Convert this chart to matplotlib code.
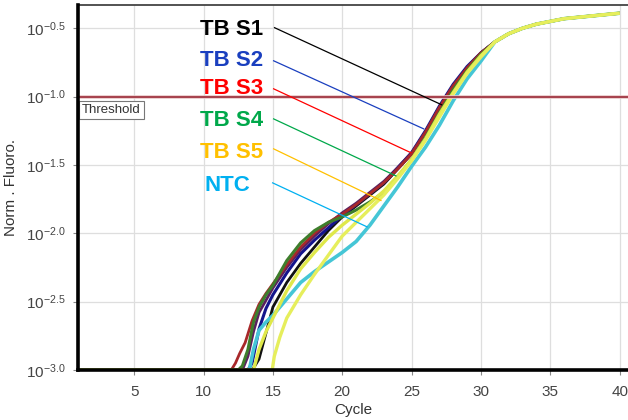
import matplotlib
matplotlib.use("Agg")
import matplotlib.pyplot as plt
import numpy as np

plt.rcParams['font.family'] = ['Liberation Sans', 'DejaVu Sans']
plt.rcParams['mathtext.fontset'] = 'custom'
plt.rcParams['mathtext.rm'] = 'Liberation Sans'
plt.rcParams['mathtext.it'] = 'Liberation Sans:italic'
plt.rcParams['mathtext.bf'] = 'Liberation Sans:bold'

"""DADOS (expoentes log10 lidos do grafico)"""
plateau_cyc = [31, 32, 33, 34, 35, 36, 37, 38, 39, 40]
plateau_exp = [-0.60, -0.54, -0.50, -0.47, -0.45, -0.43, -0.42, -0.41, -0.40, -0.39]

black_cyc = [1, 13.5, 13.7, 14, 14.5, 15, 16, 17, 18, 19, 20, 21, 22, 23, 24, 25, 26, 27, 28, 29, 30]
black_exp = [-3, -3, -2.97, -2.92, -2.73, -2.54, -2.36, -2.22, -2.10, -1.98, -1.88,
             -1.80, -1.72, -1.64, -1.53, -1.42, -1.26, -1.08, -0.92, -0.79, -0.68]

navy_cyc = [1, 13.2, 13.5, 14, 14.5, 15, 16, 17, 18, 19, 20, 21, 22, 23, 24, 25, 26, 27, 28, 29, 30]
navy_exp = [-3, -3, -2.95, -2.70, -2.55, -2.45, -2.29, -2.15, -2.05, -1.96, -1.87,
            -1.79, -1.71, -1.63, -1.52, -1.41, -1.25, -1.07, -0.91, -0.78, -0.68]

purple_cyc = [1, 12.8, 13.2, 13.6, 14, 15, 16, 17, 18, 19, 20, 21, 22, 23, 24, 25, 26, 27, 28, 29, 30]
purple_exp = [-3, -3, -2.90, -2.72, -2.58, -2.40, -2.25, -2.12, -2.02, -1.93, -1.85,
              -1.78, -1.70, -1.62, -1.52, -1.41, -1.26, -1.08, -0.92, -0.79, -0.68]

red_cyc = [1, 12.0, 12.3, 12.6, 13, 13.5, 14, 14.5, 15, 16, 17, 18, 19, 20, 21, 22, 23, 24, 25, 26, 27, 28, 29, 30]
red_exp = [-3, -3, -2.95, -2.88, -2.80, -2.64, -2.52, -2.44, -2.37, -2.23, -2.10, -2.00, -1.92, -1.86,
           -1.79, -1.71, -1.63, -1.53, -1.42, -1.26, -1.08, -0.92, -0.79, -0.68]

green_cyc = [1, 12.5, 12.8, 13.2, 13.6, 14, 14.5, 15, 16, 17, 18, 19, 20, 21, 22, 23, 24, 25, 26, 27, 28, 29, 30]
green_exp = [-3, -3, -2.97, -2.85, -2.65, -2.54, -2.45, -2.38, -2.20, -2.07, -1.98, -1.92, -1.88,
             -1.83, -1.77, -1.70, -1.59, -1.46, -1.30, -1.12, -0.95, -0.81, -0.69]

yellow1_cyc = [1, 13.6, 14, 14.5, 15, 16, 17, 18, 19, 20, 21, 22, 23, 24, 25, 26, 27, 28, 29, 30]
yellow1_exp = [-3, -3, -2.85, -2.72, -2.62, -2.42, -2.26, -2.14, -2.03, -1.94, -1.86, -1.78,
               -1.69, -1.58, -1.46, -1.31, -1.13, -0.97, -0.82, -0.70]

yellow2_cyc = [1, 14.95, 15.1, 15.5, 16, 17, 18, 19, 20, 21, 22, 23, 24, 25, 26, 27, 28, 29, 30]
yellow2_exp = [-3, -3, -2.90, -2.76, -2.62, -2.45, -2.30, -2.16, -2.02, -1.92, -1.82, -1.72,
               -1.60, -1.47, -1.32, -1.15, -0.98, -0.83, -0.71]

cyan_cyc = [1, 13.3, 13.6, 14, 14.5, 15, 16, 17, 18, 19, 20, 21, 22, 23, 24, 25, 26, 27, 28, 29, 30]
cyan_exp = [-3, -3, -2.85, -2.71, -2.65, -2.60, -2.48, -2.36, -2.28, -2.21, -2.14, -2.06,
            -1.94, -1.80, -1.66, -1.51, -1.37, -1.21, -1.03, -0.87, -0.74]

threshold_exp = -1.0

ytick_exp = [-3.0, -2.5, -2.0, -1.5, -1.0, -0.5]
xticks = [5, 10, 15, 20, 25, 30, 35, 40]

labels = ["TB S1", "TB S2", "TB S3", "TB S4", "TB S5", "NTC"]
label_colors = ["#000000", "#1a3fbf", "#ff0000", "#00a84a", "#ffc000", "#00b0f0"]
label_text_xy = [(12.05, -0.51), (12.05, -0.737), (12.05, -0.942), (12.05, -1.176), (12.05, -1.41), (11.7, -1.652)]
label_line_start = [(15.12, -0.496), (15.05, -0.738), (15.05, -0.943), (15.05, -1.163), (15.05, -1.382), (14.98, -1.631)]
label_line_end = [(27.17, -1.06), (25.87, -1.236), (24.94, -1.41), (23.87, -1.58), (22.79, -1.76), (21.79, -1.953)]

"""GRAFICO"""
fig = plt.figure(figsize=(6.28, 4.2), dpi=100)
ax = fig.add_axes([78/628, 50/420, 550/628, 365/420])

series = [
    (black_cyc, black_exp, "#111111", 2.0),
    (navy_cyc, navy_exp, "#14148c", 2.2),
    (purple_cyc, purple_exp, "#5a2060", 2.0),
    (red_cyc, red_exp, "#a8282a", 2.0),
    (green_cyc, green_exp, "#3e7e2c", 2.2),
    (cyan_cyc, cyan_exp, "#45c6d6", 2.6),
    (yellow1_cyc, yellow1_exp, "#dfe84a", 2.4),
    (yellow2_cyc, yellow2_exp, "#e6ee5c", 2.4),
]
for cyc, ex, cor, lw in series:
    c = list(cyc) + plateau_cyc
    e = list(ex) + plateau_exp
    ax.plot(c, 10 ** np.array(e), color=cor, lw=lw, solid_capstyle='butt', zorder=3)

ax.axhline(10 ** threshold_exp, color="#e9c6c6", lw=2.6, zorder=4)
ax.axhline(10 ** threshold_exp, color="#9a2a38", lw=1.2, zorder=4)
ax.text(1.25, 10 ** -1.097, "Threshold", fontsize=9.5, color="#333333", va='center', ha='left',
        bbox=dict(boxstyle='square,pad=0.25', fc='white', ec='#777777', lw=0.8), zorder=5)

for lab, cor, txy, p0, p1 in zip(labels, label_colors, label_text_xy, label_line_start, label_line_end):
    ax.text(txy[0], 10 ** txy[1], lab, color=cor, fontsize=16, fontweight='bold',
            ha='center', va='center', zorder=6)
    ax.plot([p0[0], p1[0]], [10 ** p0[1], 10 ** p1[1]], color=cor, lw=0.9, zorder=6)

ax.set_yscale('log')
ax.set_xlim(0.95, 40.6)
ax.set_ylim(10 ** -3.0, 10 ** -0.33)
ax.set_xticks(xticks)
ax.set_xticklabels([str(x) for x in xticks])
ax.set_yticks([10 ** e for e in ytick_exp])
ax.set_yticklabels([r'$10^{%.1f}$' % e for e in ytick_exp])
ax.minorticks_off()
ax.tick_params(axis='both', colors='#888888', labelcolor='#444444', labelsize=11, length=3.5, width=0.8)
ax.tick_params(axis='x', pad=7)
ax.tick_params(axis='y', pad=5)
ax.grid(True, color='#dedede', lw=0.9)
ax.set_axisbelow(True)

ax.spines['left'].set_linewidth(2.6)
ax.spines['bottom'].set_linewidth(2.6)
ax.spines['left'].set_zorder(7)
ax.spines['bottom'].set_zorder(7)
ax.spines['top'].set_linewidth(1.3)
ax.spines['top'].set_color('#444444')
ax.spines['right'].set_visible(False)

ax.set_xlabel("Cycle", fontsize=11, color='#333333', labelpad=3)
ax.set_ylabel("Norm . Fluoro.", fontsize=11, color='#333333', labelpad=6)

plt.savefig("out.png", dpi=100)
